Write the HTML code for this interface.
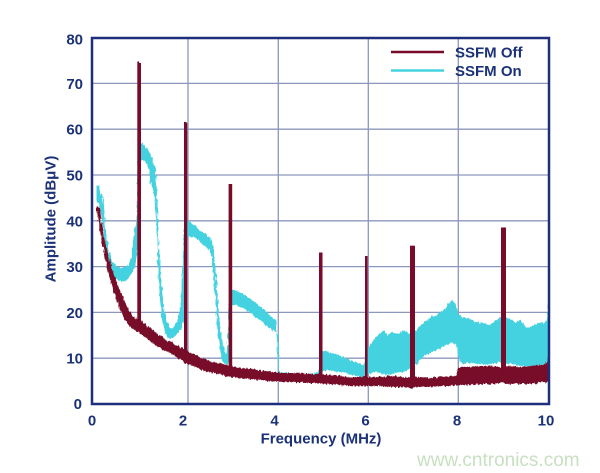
<!DOCTYPE html>
<html><head><meta charset="utf-8"><style>
html,body{margin:0;padding:0;background:#fff;}
svg{display:block;}
text{font-family:"Liberation Sans",Arial,sans-serif;}
</style></head><body>
<svg width="600" height="473" viewBox="0 0 600 473" xmlns="http://www.w3.org/2000/svg">
<defs>
<filter id="rough" x="-5%" y="-5%" width="110%" height="110%">
<feTurbulence type="fractalNoise" baseFrequency="0.6 0.15" numOctaves="2" seed="3" result="n"/>
<feDisplacementMap in="SourceGraphic" in2="n" scale="4" xChannelSelector="R" yChannelSelector="G"/>
</filter>
</defs>
<rect width="600" height="473" fill="#fff"/>
<!-- grid -->
<g stroke="#8c97bd" stroke-width="1.3">
<line x1="92" y1="83.4" x2="549" y2="83.4"/>
<line x1="92" y1="129.2" x2="549" y2="129.2"/>
<line x1="92" y1="175" x2="549" y2="175"/>
<line x1="92" y1="220.8" x2="549" y2="220.8"/>
<line x1="92" y1="266.6" x2="549" y2="266.6"/>
<line x1="92" y1="312.4" x2="549" y2="312.4"/>
<line x1="92" y1="358.2" x2="549" y2="358.2"/>
<line x1="188" y1="38" x2="188" y2="404"/>
<line x1="278.3" y1="38" x2="278.3" y2="404"/>
<line x1="368.3" y1="38" x2="368.3" y2="404"/>
<line x1="458.3" y1="38" x2="458.3" y2="404"/>
</g>
<!-- cyan SSFM On -->
<polygon filter="url(#rough)" fill="#45d2e0" points="97,186 99,185 100,192 102,196 104,205 105,225 107,240 109,250 111,258 113,263 116,266 120,268 124,268 128,265 131,258 133,245 135,228 136,225 137,222 138,150 139,143 142,142 145,146 148,150 151,156 153,160 155,168 156,175 157,195 158,220 159,245 160,265 162,290 164,308 166,320 169,327 173,328 177,322 180,310 182,285 183,260 184,230 185,222 188,221 192,224 196,226 200,230 204,233 208,236 211,238 213,245 215,262 217,290 219,315 221,330 223,345 225,352 227,354 228,340 229,295 230,290 234,290 238,292 242,293 246,296 250,298 254,302 258,305 262,308 266,312 270,315 274,318 276,322 277,345 278,368 280,372 290,373 300,373 310,374 318,372 320,360 322,350 326,351 330,353 335,354 340,356 345,358 350,360 355,362 360,364 364,365 366,356 368,348 372,343 376,337 380,333 384,331 388,335 392,332 396,334 400,333 404,330 408,333 412,335 416,330 420,326 424,322 428,320 432,315 436,316 440,312 444,310 448,305 452,300 455,303 457,310 460,316 464,318 468,318 472,320 476,322 480,323 484,323 488,325 492,323 496,320 500,318 504,316 508,318 512,320 516,322 520,320 524,325 528,328 532,326 536,324 540,322 544,323 547,320 548,303 549,300 549,362 546,364 540,365 530,366 520,366 510,363 504,364 500,362 490,365 480,364 470,363 462,363 458,358 456,345 452,342 448,344 444,346 440,348 436,350 432,352 428,354 424,356 420,360 416,365 412,368 408,370 404,372 400,372 396,373 392,374 388,375 384,374 380,373 376,372 372,373 368,374 366,376 362,378 358,376 354,375 350,374 346,373 342,372 338,372 334,371 330,370 326,370 322,372 320,378 316,380 310,381 300,382 290,381 282,381 279,378 279,350 278,335 276,332 272,330 268,327 264,324 260,320 256,318 252,314 248,311 244,309 240,307 236,305 232,304 231,310 230,360 228,365 225,364 222,360 220,350 218,335 216,312 214,285 212,260 210,250 206,247 202,244 198,240 194,237 190,236 187,237 186,260 185,290 184,320 182,328 179,332 176,336 172,338 168,338 165,333 162,320 160,300 158,270 157,240 156,210 155,200 153,190 151,185 149,170 146,163 143,160 140,160 139,200 138,240 136,260 134,270 131,275 127,280 123,282 119,281 115,278 112,272 109,262 107,255 105,243 103,228 101,215 99,205 97,200"/>
<!-- red SSFM Off -->
<g fill="#780a2a">
<polygon filter="url(#rough)" points="97,206 99,207 101,220 103,232 105,243 107,250 109,258 111,265 113,272 115,278 117,283 119,288 121,293 123,297 125,302 127,306 129,310 131,313 133,316 135,318 137,319 141,321 143,322 146,325 150,328 154,331 158,334 162,337 166,340 170,342 174,344 178,346 182,348 186,350 190,353 194,354 198,356 202,358 206,359 210,361 214,362 218,363 222,364 226,365 230,366 236,367 242,368 250,369 258,370 266,371 274,372 282,373 290,373 300,373 310,374 320,374 330,375 340,376 350,377 360,377 370,377 380,377 390,376 400,377 410,377 420,377 430,378 440,377 450,376 456,375 458,369 462,367 470,367 480,366 490,366 500,367 510,366 520,367 530,366 540,365 546,364 548,357 549,357 549,382 540,383 530,384 520,384 510,384 500,383 490,384 480,384 470,385 460,385 450,386 440,386 430,387 420,387 410,388 400,387 390,387 380,386 370,386 360,386 350,386 340,385 330,384 320,383 310,383 300,382 290,382 280,382 270,381 260,380 250,379 240,378 230,377 226,376 220,374 214,373 208,372 202,370 196,367 190,365 186,363 182,360 178,358 174,355 170,353 166,351 162,349 158,347 154,344 150,341 146,338 142,335 138,332 134,330 130,327 126,322 124,319 122,314 120,309 118,304 116,299 114,293 112,286 110,279 108,271 106,263 104,253 102,243 100,231 98,219 97,211"/>
<polygon points="137.3,62 138.5,61 139.5,63 141,63 141,325 137.3,325"/>
<polygon points="184,122 185.5,121.7 187.3,123 187.3,356 184,356"/>
<rect x="228.6" y="184" width="3.6" height="186"/>
<rect x="319" y="252.5" width="3.5" height="126"/>
<rect x="365" y="256" width="2.6" height="124"/>
<rect x="410" y="245.7" width="5" height="136"/>
<rect x="501" y="227.5" width="5" height="146"/>
</g>
<!-- frame -->
<rect x="92" y="38" width="457" height="366" fill="none" stroke="#1c2e7c" stroke-width="2.5"/>
<!-- y tick labels -->
<g fill="#1b3178" font-size="15" font-weight="bold" text-anchor="end">
<text x="83" y="44.5">80</text>
<text x="83" y="89">70</text>
<text x="83" y="134.7">60</text>
<text x="83" y="180.5">50</text>
<text x="83" y="226.3">40</text>
<text x="83" y="272">30</text>
<text x="83" y="317.9">20</text>
<text x="83" y="363.7">10</text>
<text x="82" y="409">0</text>
</g>
<!-- x tick labels -->
<g fill="#1b3178" font-size="15" font-weight="bold" text-anchor="middle">
<text x="92" y="425.5">0</text>
<text x="183" y="425.5">2</text>
<text x="274.5" y="425.5">4</text>
<text x="365.5" y="425.5">6</text>
<text x="457" y="425.5">8</text>
<text x="546" y="425.5">10</text>
</g>
<text x="321" y="443.5" fill="#1b3178" font-size="15" font-weight="bold" text-anchor="middle">Frequency (MHz)</text>
<text transform="translate(55.5,219) rotate(-90)" fill="#1b3178" font-size="15" font-weight="bold" text-anchor="middle">Amplitude (dBμV)</text>
<!-- legend -->
<line x1="391" y1="52" x2="444" y2="52" stroke="#780a2a" stroke-width="2.5"/>
<line x1="391" y1="70.5" x2="444" y2="70.5" stroke="#45d2e0" stroke-width="2.5"/>
<g fill="#1b3178" font-size="15" font-weight="bold">
<text x="455" y="57.5">SSFM Off</text>
<text x="455" y="76">SSFM On</text>
</g>
<!-- watermark -->
<text x="417" y="466" fill="#c8e0c2" font-size="19">www.cntronics.com</text>
</svg>
</body></html>
